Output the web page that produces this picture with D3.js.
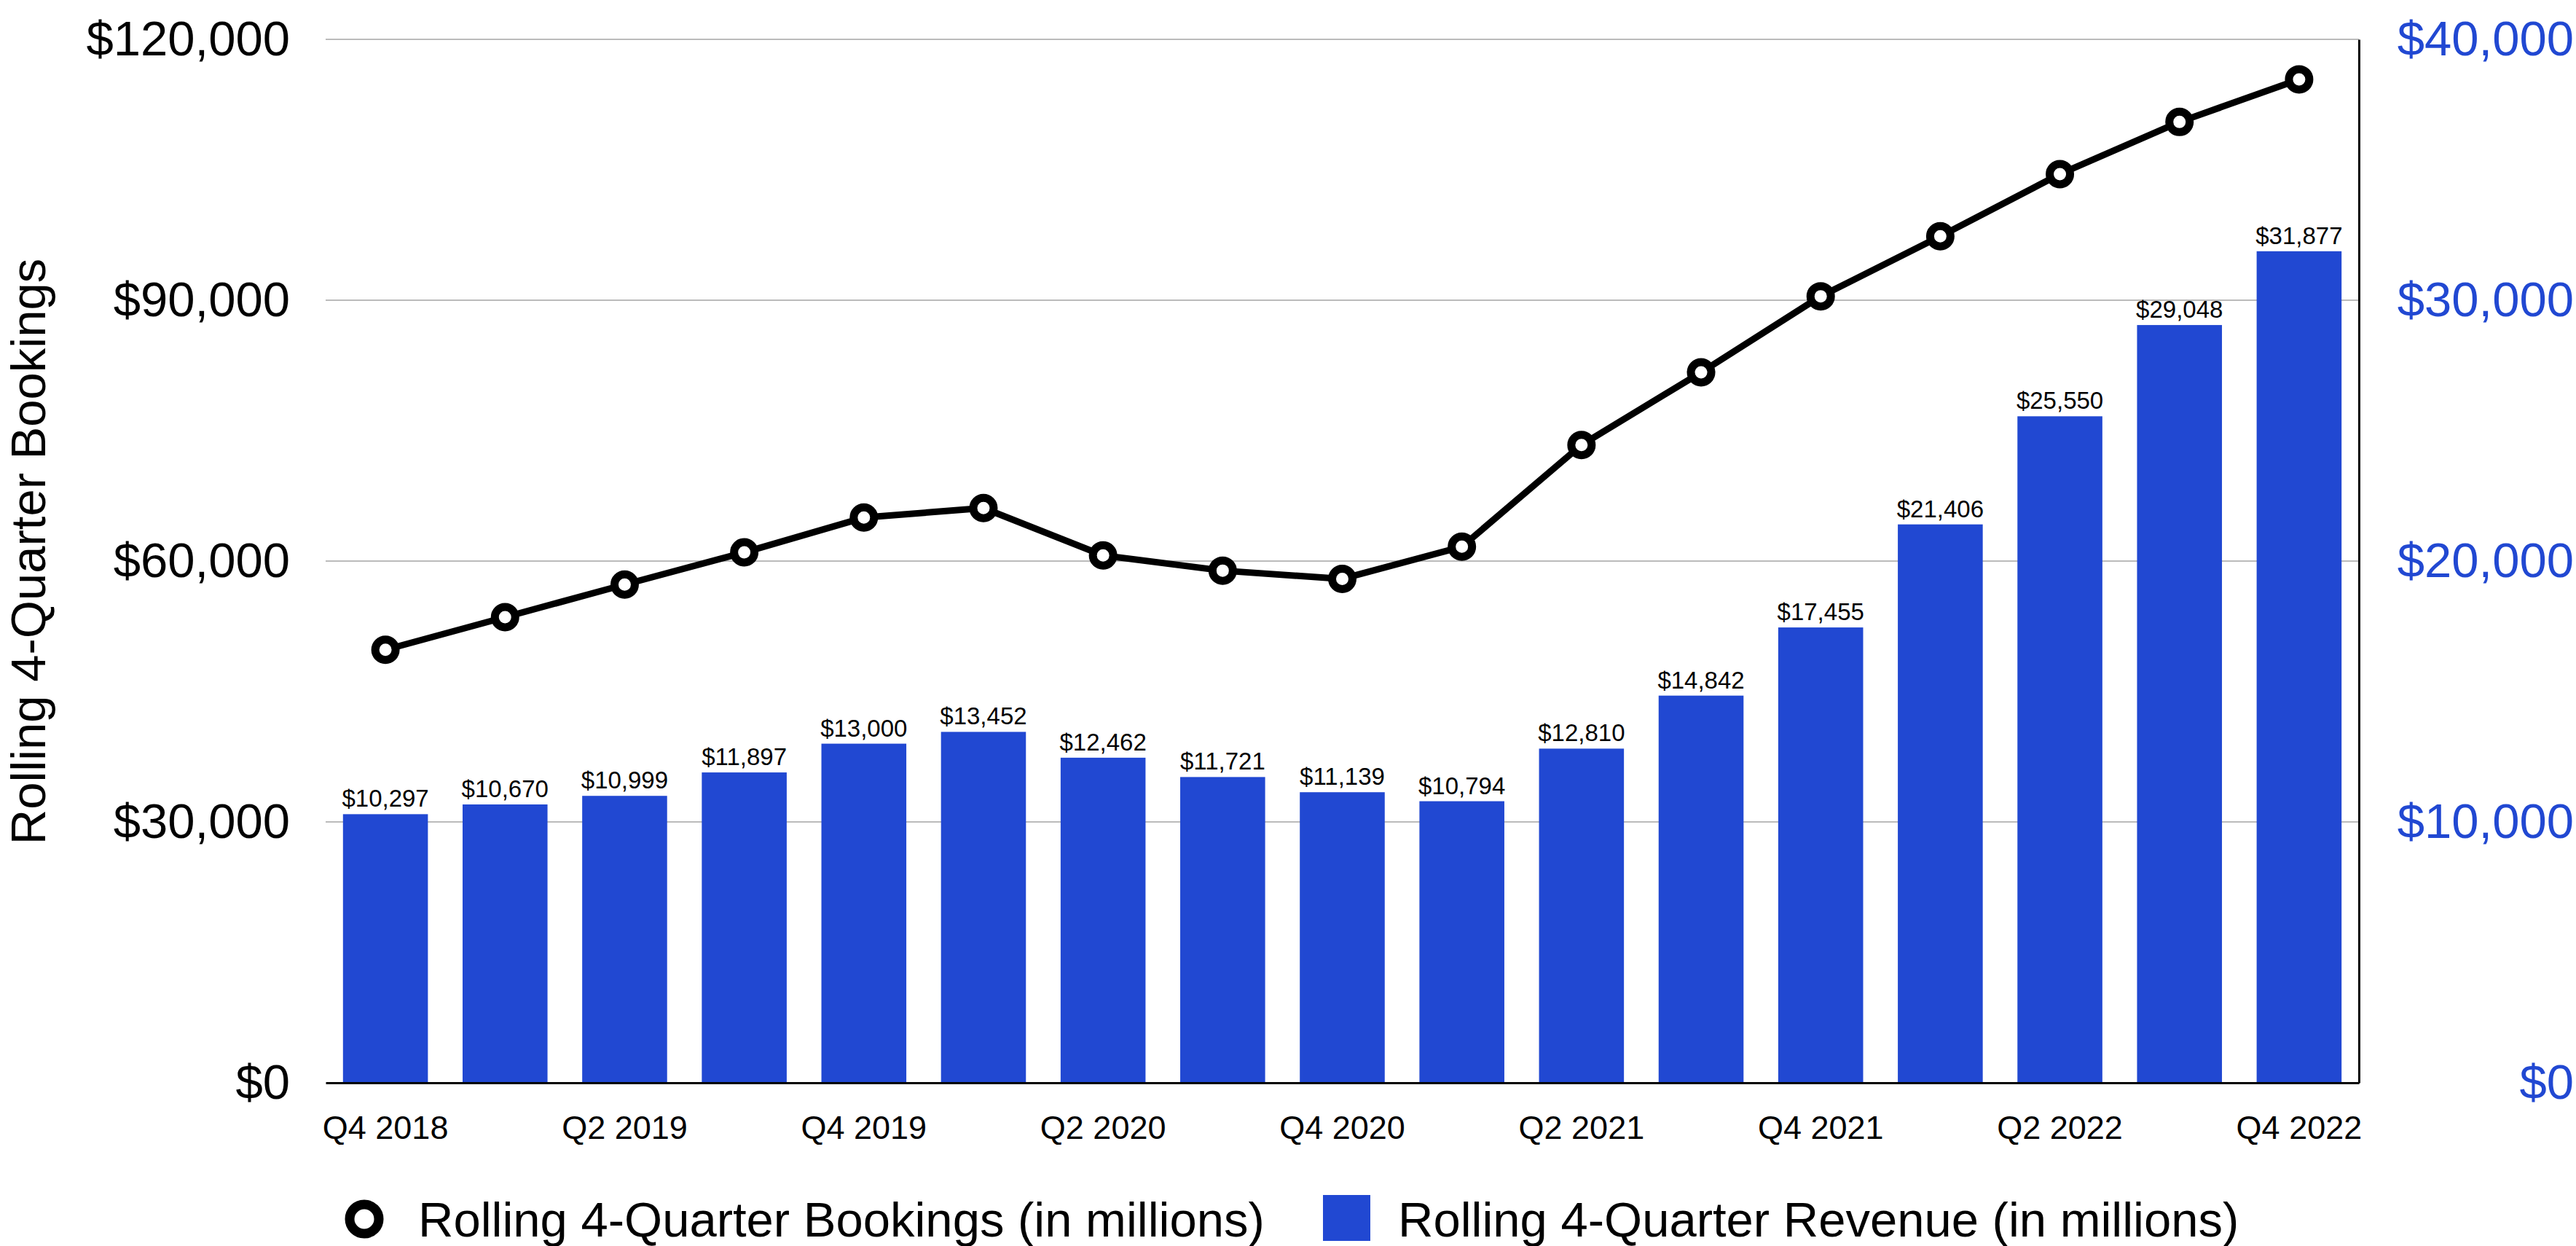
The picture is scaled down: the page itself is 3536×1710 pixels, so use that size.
<!DOCTYPE html>
<html>
<head>
<meta charset="utf-8">
<script src="https://cdn.jsdelivr.net/npm/d3@7"></script>
<style>
  body { margin: 0; background: #fff; }
  text { font-family: "Liberation Sans", Arial, Helvetica, sans-serif; }
</style>
</head>
<body>
<svg id="chart" width="3536" height="1710"></svg>
<script>
// quarters on the x axis
var quarters = ["Q4 2018", "Q1 2019", "Q2 2019", "Q3 2019", "Q4 2019", "Q1 2020", "Q2 2020", "Q3 2020",
                "Q4 2020", "Q1 2021", "Q2 2021", "Q3 2021", "Q4 2021", "Q1 2022", "Q2 2022", "Q3 2022", "Q4 2022"];
// rolling 4-quarter revenue, millions (bars, right axis)
var revenue = [10297, 10670, 10999, 11897, 13000, 13452, 12462, 11721, 11139, 10794,
               12810, 14842, 17455, 21406, 25550, 29048, 31877];
// rolling 4-quarter bookings, millions (line, left axis)
var bookings = [49800, 53550, 57300, 61000, 65000, 66100, 60650, 58900, 57950, 61650,
                73350, 81700, 90450, 97350, 104500, 110500, 115400];
var leftTicks = [0, 30000, 60000, 90000, 120000];
var rightTicks = [0, 10000, 20000, 30000, 40000];

var blue = "#2148d2";
var plotLeft = 447, plotRight = 3238, plotTop = 54, plotBottom = 1486;

var svg = d3.select("#chart");
var money = d3.format("$,");

var x = d3.scaleBand()
  .domain(quarters)
  .range([plotLeft, plotRight])
  .paddingInner(0.29)
  .paddingOuter(0.145);

var yL = d3.scaleLinear().domain([0, 120000]).range([plotBottom, plotTop]);
var yR = d3.scaleLinear().domain([0, 40000]).range([plotBottom, plotTop]);

// gridlines
svg.append("g")
  .selectAll("line")
  .data(leftTicks.filter(function(d) { return d > 0; }))
  .enter().append("line")
  .attr("x1", plotLeft).attr("x2", plotRight)
  .attr("y1", function(d) { return yL(d); })
  .attr("y2", function(d) { return yL(d); })
  .attr("stroke", "#bbbbbb")
  .attr("stroke-width", 2);

// left axis labels
var gl = svg.append("g")
  .attr("transform", "translate(" + plotLeft + ",0)")
  .call(d3.axisLeft(yL).tickValues(leftTicks).tickFormat(money).tickSize(0).tickPadding(49));
gl.select(".domain").remove();
gl.selectAll("text").attr("font-size", 67).attr("fill", "#000")
  .style("font-family", "'Liberation Sans', Arial, sans-serif");

// right axis labels
var gr = svg.append("g")
  .attr("transform", "translate(" + plotRight + ",0)")
  .call(d3.axisRight(yR).tickValues(rightTicks).tickFormat(money).tickSize(0).tickSizeOuter(0));
gr.select(".domain").attr("stroke", "#000").attr("stroke-width", 3);
gr.selectAll("text").attr("font-size", 67).attr("fill", blue)
  .attr("text-anchor", "end").attr("x", 3533 - plotRight)
  .style("font-family", "'Liberation Sans', Arial, sans-serif");

// bars
svg.append("g")
  .selectAll("rect")
  .data(revenue)
  .enter().append("rect")
  .attr("x", function(d, i) { return x(quarters[i]); })
  .attr("width", x.bandwidth())
  .attr("y", function(d) { return yR(d); })
  .attr("height", function(d) { return plotBottom - yR(d); })
  .attr("fill", blue);

// bar value labels
svg.append("g")
  .selectAll("text")
  .data(revenue)
  .enter().append("text")
  .attr("x", function(d, i) { return x(quarters[i]) + x.bandwidth() / 2; })
  .attr("y", function(d) { return yR(d) - 10; })
  .attr("text-anchor", "middle")
  .attr("font-size", 33)
  .text(function(d) { return money(d); });

// x axis
var gx = svg.append("g")
  .attr("transform", "translate(0," + plotBottom + ")")
  .call(d3.axisBottom(x).tickSize(0).tickSizeOuter(0).tickPadding(45)
    .tickFormat(function(d, i) { return i % 2 === 0 ? d : ""; }));
gx.select(".domain").attr("stroke", "#000").attr("stroke-width", 3);
gx.selectAll("text").attr("font-size", 45).attr("fill", "#000")
  .style("font-family", "'Liberation Sans', Arial, sans-serif");

// bookings line
var line = d3.line()
  .x(function(d, i) { return x(quarters[i]) + x.bandwidth() / 2; })
  .y(function(d) { return yL(d); });

svg.append("path")
  .datum(bookings)
  .attr("d", line)
  .attr("fill", "none")
  .attr("stroke", "#000")
  .attr("stroke-width", 9)
  .attr("stroke-linejoin", "round");

svg.append("g")
  .selectAll("circle")
  .data(bookings)
  .enter().append("circle")
  .attr("cx", function(d, i) { return x(quarters[i]) + x.bandwidth() / 2; })
  .attr("cy", function(d) { return yL(d); })
  .attr("r", 14)
  .attr("fill", "#fff")
  .attr("stroke", "#000")
  .attr("stroke-width", 11);

// left axis title
svg.append("text")
  .attr("transform", "translate(62,757) rotate(-90)")
  .attr("text-anchor", "middle")
  .attr("font-size", 67)
  .text("Rolling 4-Quarter Bookings");

// legend
var legend = svg.append("g");
legend.append("circle")
  .attr("cx", 500).attr("cy", 1673).attr("r", 20)
  .attr("fill", "#fff").attr("stroke", "#000").attr("stroke-width", 13);
legend.append("text")
  .attr("x", 574).attr("y", 1697)
  .attr("font-size", 67)
  .text("Rolling 4-Quarter Bookings (in millions)");
legend.append("rect")
  .attr("x", 1816).attr("y", 1640).attr("width", 65).attr("height", 63)
  .attr("fill", blue);
legend.append("text")
  .attr("x", 1919).attr("y", 1697)
  .attr("font-size", 67)
  .text("Rolling 4-Quarter Revenue (in millions)");
</script>
</body>
</html>
